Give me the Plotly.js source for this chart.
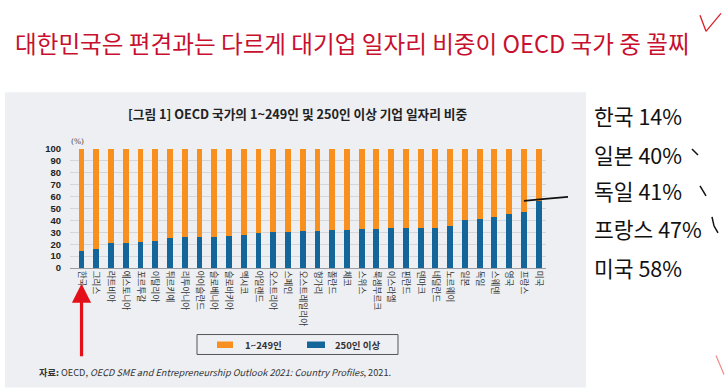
<!DOCTYPE html>
<html>
<head>
<meta charset="utf-8">
<script src="https://cdn.plot.ly/plotly-3.0.1.min.js"></script>
<style>
html,body{margin:0;padding:0;background:#fff;}
#chart{width:725px;height:388px;}
</style>
</head>
<body>
<div id="chart"></div>
<script>
const countries = ['한국','그리스','라트비아','에스토니아','포르투갈','이탈리아','튀르키예','리투아니아','아이슬란드','슬로베니아','슬로바키아','멕시코','아일랜드','오스트리아','스페인','오스트레일리아','헝가리','폴란드','체코','스위스','룩셈부르크','이스라엘','핀란드','덴마크','네덜란드','노르웨이','일본','독일','스웨덴','영국','프랑스','미국'];
const large250 = [14,16,21,21,22,23,25,26,26,26,27,28,29,30,30,31,31,32,32,33,33,34,34,34,34,35,40,41,43,45,47,56];
const small1to249 = [86,84,79,79,78,77,75,74,74,74,73,72,71,70,70,69,69,68,68,67,67,66,66,66,66,65,60,59,57,55,53,44];
const seriesNames = ['1~249인','250인 이상'];
const yTicks = [0,10,20,30,40,50,60,70,80,90,100];
const sideLabels = ['한국 14%','일본 40%','독일 41%','프랑스 47%','미국 58%'];

const W = 725, H = 388;
const L = 70, R = 546, T = 149, B = 268.3;
const px = x => (x - L) / (R - L);
const py = y => (B - y) / (B - T);

const KR = '"Noto Sans CJK KR", "Noto Sans", sans-serif';
const ORANGE = '#f7901e', BLUE = '#13659a';

const traces = [
  {type:'bar', name:seriesNames[1], x:countries, y:large250, marker:{color:BLUE}, hoverinfo:'skip', showlegend:false},
  {type:'bar', name:seriesNames[0], x:countries, y:small1to249, marker:{color:ORANGE}, hoverinfo:'skip', showlegend:false}
];

const annotations = [
  {xref:'paper', yref:'paper', x:px(352), y:py(43), text:'대한민국은 편견과는 다르게 대기업 일자리 비중이 OECD 국가 중 꼴찌',
   showarrow:false, xanchor:'center', yanchor:'middle', font:{family:KR, size:23.6, color:'#c8102e'}},
  {xref:'paper', yref:'paper', x:px(297), y:py(113), text:'<b>[그림 1] OECD 국가의 1~249인 및 250인 이상 기업 일자리 비중</b>',
   showarrow:false, xanchor:'center', yanchor:'middle', font:{family:KR, size:12.7, color:'#222'}},
  {xref:'paper', yref:'paper', x:px(69), y:py(141), text:'(%)',
   showarrow:false, xanchor:'left', yanchor:'middle', font:{family:'DejaVu Serif, serif', size:7.5, color:'#444'}},
  {xref:'paper', yref:'paper', x:px(37), y:py(373),
   text:'<b>자료:</b> OECD, <i>OECD SME and Entrepreneurship Outlook 2021: Country Profiles</i>, 2021.',
   showarrow:false, xanchor:'left', yanchor:'middle', font:{family:KR, size:9.2, color:'#333'}},
  {xref:'x', yref:'paper', x:countries[0], y:py(284), ax:0, ay:74, text:'',
   showarrow:true, arrowhead:2, arrowsize:1.2, arrowwidth:3.2, arrowcolor:'#e3101a'},
  // legend labels
  {xref:'paper', yref:'paper', x:px(243), y:py(345), text:'<b>'+seriesNames[0]+'</b>', showarrow:false,
   xanchor:'left', yanchor:'middle', font:{family:KR, size:9.5, color:'#333'}},
  {xref:'paper', yref:'paper', x:px(333), y:py(345), text:'<b>'+seriesNames[1]+'</b>', showarrow:false,
   xanchor:'left', yanchor:'middle', font:{family:KR, size:9.5, color:'#333'}}
];
const sideY = [115, 155, 191, 229, 268];
sideLabels.forEach((t,i)=>{
  annotations.push({xref:'paper', yref:'paper', x:px(592), y:py(sideY[i]), text:t, showarrow:false,
    xanchor:'left', yanchor:'middle', font:{family:KR, size:21.5, color:'#111'}});
});

const seg = (x0,y0,x1,y1,color,width) => ({type:'line', xref:'paper', yref:'paper',
  x0:px(x0), y0:py(y0), x1:px(x1), y1:py(y1), line:{color:color, width:width}});

const shapes = [
  {type:'rect', xref:'paper', yref:'paper', x0:px(5), x1:px(586), y0:py(92), y1:py(388),
   fillcolor:'#edeff2', line:{width:0}, layer:'below'},
  // legend box and swatches
  {type:'rect', xref:'paper', yref:'paper', x0:px(197), x1:px(398), y0:py(335), y1:py(355),
   fillcolor:'rgba(0,0,0,0)', line:{color:'#555', width:1}},
  {type:'rect', xref:'paper', yref:'paper', x0:px(217), x1:px(233), y0:py(342), y1:py(348.5),
   fillcolor:ORANGE, line:{width:0}},
  {type:'rect', xref:'paper', yref:'paper', x0:px(307), x1:px(325), y0:py(342), y1:py(348.5),
   fillcolor:BLUE, line:{width:0}},
  // handwritten marks
  seg(700,15,706,31,'#d8202a',1.3), seg(706,31,721,13,'#d8202a',1.3),
  seg(692,149,698,155,'#111',1.5),
  seg(700,186,706,196,'#111',1.5),
  seg(712,217,714,226,'#111',1.5), seg(714,226,718,233,'#111',1.5),
  seg(524,201,545,199,'#111',1.8), seg(545,199,568,197,'#111',1.8),
  seg(716,356,724,375,'#f08a8a',1.2)
];

const layout = {
  width:W, height:H,
  margin:{l:L, r:W-R, t:T, b:H-B, pad:0},
  paper_bgcolor:'#ffffff', plot_bgcolor:'rgba(0,0,0,0)',
  barmode:'stack', bargap:0.6,
  font:{family:KR},
  showlegend:false,
  xaxis:{type:'category', tickangle:90, tickfont:{family:KR, size:8.6, color:'#333'},
    showline:true, linecolor:'#9a9da2', linewidth:1, ticks:'', showgrid:false, fixedrange:true},
  yaxis:{range:[0,100], tickvals:yTicks, ticktext:yTicks.map(String), showgrid:true, gridcolor:'#d3d6da', gridwidth:1,
    zeroline:false, showline:false, ticks:'', ticklabelstandoff:8,
    tickfont:{family:'"Liberation Sans", Arial, sans-serif', size:9.5, color:'#222', weight:'bold'}, fixedrange:true},
  annotations:annotations, shapes:shapes
};

Plotly.newPlot('chart', traces, layout, {displayModeBar:false, staticPlot:true});
</script>
</body>
</html>
